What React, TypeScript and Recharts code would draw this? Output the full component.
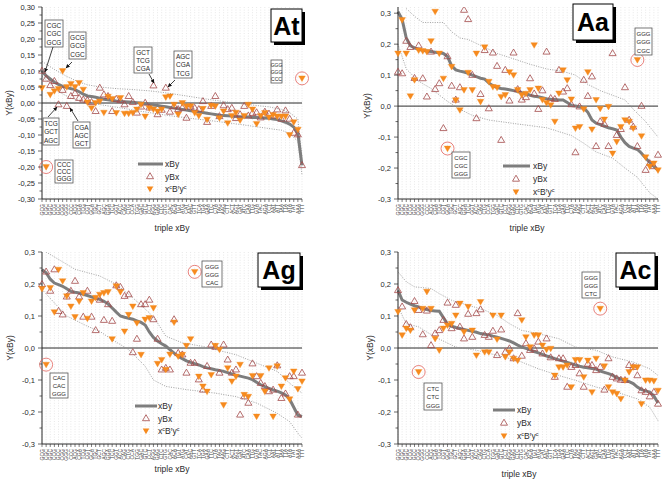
import React from 'react'
import { ComposedChart, Line, XAxis, YAxis, CartesianGrid, ReferenceLine, ReferenceDot } from 'recharts'

const FONT = '"Liberation Sans", Arial, sans-serif'
const GRAY = '#7d7d7d'
const RED = '#a34a4a'
const ORANGE = '#f68a1e'
const RING = '#e2625c'
const INK = '#2a2a2a'

// codon tick labels (too small to read in the source, kept as plausible triples)
const CODONS = [
  'GCG', 'CGC', 'GGC', 'CCG', 'GCC', 'CGG', 'GGG', 'CCC', 'ACG', 'CGA', 'TCG', 'CGT', 'GCA', 'TGC', 'GCT', 'AGC',
  'GGA', 'TCC', 'GGT', 'ACC', 'CAG', 'CTG', 'CCA', 'TGG', 'GAC', 'GTC', 'CCT', 'AGG', 'GAG', 'CTC', 'GTG', 'CAC',
  'ACA', 'TGT', 'ATG', 'CAT', 'AAC', 'GTT', 'TCA', 'TGA', 'GAA', 'TTC', 'CTA', 'TAG', 'AAG', 'CTT', 'ACT', 'AGT',
  'GAT', 'ATC', 'CAA', 'TTG', 'GTA', 'TAC', 'AGA', 'TCT', 'AAT', 'ATT', 'TAA', 'TTA', 'ATA', 'TAT', 'AAA', 'TTT',
]

type Pair = [number, number]

// ---- At ----
const AT_XBY = [
  0.100, 0.085, 0.075, 0.065, 0.058, 0.052, 0.048, 0.045, 0.042, 0.035, 0.028, 0.022, 0.020, 0.018, 0.015, 0.012,
  0.010, 0.008, 0.006, 0.005, 0.004, 0.003, 0.002, 0.001, 0.000, -0.002, -0.004, -0.006, -0.008, -0.010, -0.012, -0.014,
  -0.016, -0.018, -0.020, -0.022, -0.024, -0.026, -0.028, -0.030, -0.032, -0.034, -0.036, -0.038, -0.039, -0.040, -0.041, -0.042,
  -0.043, -0.044, -0.044, -0.045, -0.045, -0.046, -0.047, -0.048, -0.050, -0.052, -0.056, -0.060, -0.066, -0.075, -0.095, -0.195,
]
const AT_YBX = [
  0.100, 0.075, 0.055, 0.068, -0.005, 0.040, -0.010, 0.021, 0.030, 0.015, 0.010, 0.008, 0.002, -0.026, 0.047, 0.026,
  0.021, -0.026, 0.012, 0.008, -0.005, 0.021, 0.002, -0.031, -0.012, 0.000, -0.015, 0.054, -0.036, -0.022, 0.047, -0.028,
  -0.010, -0.020, -0.015, -0.047, -0.012, -0.016, -0.020, 0.005, -0.060, -0.010, 0.021, -0.042, -0.008, -0.020, -0.016, -0.048,
  -0.036, -0.010, -0.040, -0.032, -0.030, -0.046, -0.028, -0.034, -0.040, -0.021, -0.050, -0.024, -0.050, -0.094, -0.099, -0.195,
]
const AT_COMP = [
  0.047, -0.200, 0.026, 0.037, 0.044, 0.100, 0.050, 0.060, 0.050, 0.063, 0.042, 0.002, -0.016, 0.000, 0.005, -0.030,
  0.020, 0.013, -0.031, 0.016, -0.033, -0.033, -0.031, -0.020, -0.005, -0.042, -0.016, -0.020, -0.026, -0.020, 0.018, 0.021,
  -0.005, -0.036, 0.000, -0.010, -0.010, -0.031, -0.040, -0.018, -0.052, -0.008, -0.010, -0.047, -0.026, -0.063, -0.040, -0.030,
  -0.054, -0.040, -0.005, -0.020, -0.065, -0.040, -0.031, -0.045, -0.037, -0.042, -0.042, -0.042, -0.100, -0.060, -0.083, 0.077,
]
const AT_UPPER: Pair[] = [
  [0, 0.13], [3, 0.105], [6, 0.083], [9, 0.065], [11, 0.057], [14, 0.05], [18, 0.045], [22, 0.042], [26, 0.038], [30, 0.032],
  [35, 0.022], [40, 0.012], [45, 0.003], [50, -0.005], [55, -0.012], [58, -0.02], [60, -0.03], [62, -0.05], [63, -0.17],
]
const AT_LOWER: Pair[] = [
  [0, 0.085], [2, 0.06], [4, 0.035], [7, 0.015], [10, 0.005], [14, -0.005], [19, -0.015], [24, -0.026], [30, -0.038],
  [36, -0.048], [42, -0.057], [48, -0.067], [54, -0.078], [58, -0.085], [60, -0.095], [62, -0.12], [63, -0.225],
]
const AT_RINGS = [1, 63]
const AT_YTICKS = [-0.3, -0.25, -0.2, -0.15, -0.1, -0.05, 0, 0.05, 0.1, 0.15, 0.2, 0.25, 0.3]

// ---- Aa ----
const AA_XBY = [
  0.305, 0.280, 0.220, 0.195, 0.188, 0.183, 0.180, 0.178, 0.176, 0.174, 0.172, 0.170, 0.160, 0.130, 0.117, 0.113,
  0.110, 0.106, 0.100, 0.095, 0.090, 0.087, 0.075, 0.066, 0.060, 0.057, 0.055, 0.053, 0.050, 0.047, 0.043, 0.040,
  0.035, 0.032, 0.030, 0.027, 0.024, 0.022, 0.021, 0.020, 0.020, 0.012, 0.002, 0.000, -0.002, -0.005, -0.020, -0.045,
  -0.055, -0.060, -0.065, -0.070, -0.073, -0.077, -0.100, -0.118, -0.130, -0.136, -0.140, -0.152, -0.168, -0.182, -0.195, -0.207,
]
const AA_YBX = [
  0.110, 0.105, 0.210, 0.190, 0.090, 0.195, 0.089, 0.030, 0.175, 0.054, 0.073, -0.072, 0.160, 0.065, 0.020, 0.060,
  0.310, 0.280, 0.100, -0.040, 0.038, 0.180, -0.008, 0.172, 0.129, -0.110, 0.116, 0.017, 0.172, 0.054, 0.020, 0.028,
  0.089, 0.040, -0.010, 0.050, 0.175, 0.025, 0.022, 0.116, 0.046, 0.057, 0.005, -0.150, -0.002, 0.084, 0.032, 0.095,
  -0.130, -0.050, -0.058, -0.130, 0.170, -0.094, -0.075, 0.060, -0.045, -0.067, -0.130, 0.000, -0.207, -0.185, -0.195, -0.158,
]
const AA_COMP = [
  0.170, 0.278, 0.170, 0.032, 0.084, 0.180, 0.178, 0.175, 0.210, 0.305, 0.170, 0.089, -0.137, 0.127, 0.019, -0.013,
  0.052, 0.108, 0.052, 0.170, 0.014, 0.190, 0.079, 0.062, 0.060, 0.030, 0.036, 0.110, 0.100, 0.052, 0.036, 0.040,
  0.052, 0.197, 0.057, 0.020, 0.010, 0.003, -0.050, 0.041, 0.116, 0.084, 0.022, -0.072, -0.067, -0.010, 0.110, -0.075,
  0.020, -0.008, -0.043, -0.002, -0.153, -0.115, -0.067, -0.045, -0.050, -0.072, 0.149, -0.097, -0.165, -0.195, -0.185, -0.207,
]
const AA_UPPER: Pair[] = [
  [2, 0.315], [4, 0.29], [6, 0.27], [11, 0.27], [13, 0.24], [15, 0.22], [17, 0.215], [21, 0.19], [24, 0.17], [27, 0.157],
  [32, 0.135], [36, 0.12], [40, 0.112], [43, 0.1], [46, 0.07], [49, 0.05], [52, 0.035], [55, 0.02], [57, -0.01], [60, -0.05], [63, -0.1],
]
const AA_LOWER: Pair[] = [
  [0, 0.2], [2, 0.12], [5, 0.08], [8, 0.057], [12, 0.015], [15, -0.01], [18, -0.03], [22, -0.045], [28, -0.056], [36, -0.07],
  [42, -0.095], [45, -0.12], [48, -0.148], [52, -0.168], [55, -0.2], [58, -0.23], [61, -0.28], [63, -0.3],
]
const AA_RINGS = [12, 58]
const TENTHS = [-0.3, -0.2, -0.1, 0, 0.1, 0.2, 0.3]

// ---- Ag ----
const AG_XBY = [
  0.245, 0.235, 0.215, 0.203, 0.198, 0.193, 0.185, 0.177, 0.174, 0.172, 0.168, 0.164, 0.160, 0.155, 0.152, 0.146,
  0.138, 0.125, 0.112, 0.100, 0.096, 0.093, 0.090, 0.085, 0.080, 0.072, 0.050, 0.033, 0.022, 0.013, 0.006, -0.005,
  -0.016, -0.026, -0.033, -0.040, -0.045, -0.049, -0.053, -0.058, -0.062, -0.065, -0.068, -0.070, -0.073, -0.077, -0.081, -0.085,
  -0.088, -0.091, -0.094, -0.099, -0.107, -0.115, -0.121, -0.126, -0.131, -0.135, -0.140, -0.147, -0.160, -0.185, -0.210, -0.214,
]
const AG_YBX = [
  0.199, 0.238, 0.178, 0.245, 0.115, 0.104, 0.160, 0.178, 0.209, 0.160, 0.097, 0.178, 0.097, 0.055, 0.150, 0.087,
  0.136, 0.084, 0.195, 0.190, 0.162, 0.167, -0.014, 0.028, 0.136, 0.136, 0.150, 0.089, 0.028, -0.068, -0.063, -0.068,
  0.089, -0.016, -0.021, -0.078, -0.047, -0.047, -0.099, -0.131, -0.057, 0.010, 0.003, -0.078, 0.010, -0.037, -0.078, -0.068,
  -0.209, -0.152, -0.172, -0.049, -0.089, -0.110, -0.120, -0.136, -0.131, -0.055, -0.157, -0.143, -0.089, -0.089, -0.209, -0.078,
]
const AG_COMP = [
  0.185, -0.052, 0.188, 0.112, 0.245, 0.209, 0.162, 0.130, 0.097, 0.146, 0.172, 0.092, 0.146, 0.157, 0.167, 0.172,
  0.175, 0.028, 0.193, 0.175, 0.052, 0.104, 0.130, 0.078, -0.021, 0.089, 0.094, 0.125, -0.049, -0.037, -0.068, -0.020,
  0.080, -0.026, -0.021, 0.007, 0.028, 0.238, -0.089, -0.120, -0.136, -0.084, 0.007, -0.005, -0.178, -0.063, -0.104, -0.089,
  -0.052, -0.146, -0.152, -0.087, -0.214, -0.087, -0.136, -0.063, -0.214, -0.057, -0.120, -0.094, -0.160, -0.073, -0.128, -0.104,
]
const AG_UPPER: Pair[] = [
  [1, 0.3], [4, 0.277], [8, 0.246], [14, 0.225], [18, 0.199], [22, 0.157], [26, 0.11], [28, 0.078], [30, 0.037], [34, 0.016],
  [39, 0.005], [42, -0.005], [47, -0.021], [51, -0.042], [57, -0.073], [60, -0.11], [63, -0.141],
]
const AG_LOWER: Pair[] = [
  [0, 0.183], [3, 0.141], [6, 0.1], [11, 0.068], [14, 0.052], [17, 0.026], [21, -0.005], [25, -0.057], [27, -0.1], [30, -0.12],
  [35, -0.13], [42, -0.141], [47, -0.152], [52, -0.172], [57, -0.204], [60, -0.23], [62, -0.266], [63, -0.282],
]
const AG_RINGS = [1, 37]

// ---- Ac ----
const AC_XBY = [
  0.180, 0.150, 0.143, 0.137, 0.132, 0.128, 0.124, 0.120, 0.117, 0.116, 0.115, 0.095, 0.075, 0.068, 0.064, 0.061,
  0.058, 0.055, 0.052, 0.049, 0.045, 0.043, 0.041, 0.037, 0.034, 0.030, 0.026, 0.022, 0.016, 0.009, 0.003, -0.001,
  -0.006, -0.011, -0.015, -0.020, -0.025, -0.029, -0.033, -0.037, -0.041, -0.045, -0.049, -0.053, -0.057, -0.060, -0.062, -0.064,
  -0.066, -0.072, -0.076, -0.080, -0.085, -0.093, -0.097, -0.100, -0.105, -0.111, -0.122, -0.130, -0.134, -0.138, -0.150, -0.172,
]
const AC_YBX = [
  0.180, 0.129, 0.074, 0.064, 0.146, 0.118, 0.042, 0.116, 0.008, 0.045, 0.055, 0.087, 0.141, 0.061, 0.134, 0.066,
  0.029, 0.106, 0.034, 0.108, 0.120, 0.040, 0.034, 0.053, -0.023, 0.057, -0.013, -0.002, -0.033, 0.108, -0.025, 0.014,
  -0.007, -0.002, 0.019, -0.018, 0.029, -0.030, -0.091, -0.033, -0.033, -0.122, -0.060, -0.054, -0.080, -0.122, -0.050, -0.054,
  -0.070, -0.060, -0.131, -0.033, -0.091, -0.096, -0.100, -0.101, -0.054, -0.060, -0.086, -0.133, -0.138, -0.152, -0.138, -0.175,
]
const AC_COMP = [
  0.113, 0.040, 0.061, 0.055, 0.118, -0.075, 0.123, 0.176, 0.123, 0.029, -0.007, 0.061, 0.071, 0.076, 0.102, 0.139,
  0.050, 0.129, 0.055, -0.023, 0.144, -0.013, -0.013, 0.102, 0.027, 0.102, -0.028, -0.013, -0.033, -0.039, 0.087, 0.034,
  0.003, 0.040, 0.040, 0.008, -0.005, -0.002, -0.086, -0.060, -0.060, -0.054, -0.122, -0.037, -0.037, -0.091, -0.039, -0.138,
  -0.033, 0.123, -0.057, -0.122, -0.138, -0.143, -0.159, -0.101, -0.075, -0.060, -0.060, -0.175, -0.101, -0.101, -0.103, -0.133,
]
const AC_UPPER: Pair[] = [
  [0, 0.238], [2, 0.207], [4, 0.191], [8, 0.186], [10, 0.17], [13, 0.149], [17, 0.134], [21, 0.118], [24, 0.102], [27, 0.076],
  [30, 0.055], [34, 0.045], [39, 0.029], [43, 0.003], [48, -0.007], [52, -0.028], [57, -0.044], [61, -0.065], [63, -0.086],
]
const AC_LOWER: Pair[] = [
  [0, 0.129], [2, 0.076], [5, 0.066], [9, 0.034], [14, 0.003], [19, -0.007], [24, -0.023], [29, -0.039], [34, -0.065],
  [39, -0.086], [43, -0.101], [48, -0.122], [53, -0.138], [58, -0.159], [61, -0.185], [63, -0.227],
]
const AC_RINGS = [5, 49]

function buildRows(xby: number[], ybx: number[], comp: number[], upper: Pair[], lower: Pair[]) {
  return xby.map((v, i) => ({
    i,
    xby: v,
    ybx: ybx[i],
    comp: comp[i],
    upper: upper.find((p) => p[0] === i)?.[1] ?? null,
    lower: lower.find((p) => p[0] === i)?.[1] ?? null,
  }))
}

const upTri = (cx: number, cy: number) => `M${cx},${cy - 3.8}L${cx + 3.5},${cy + 2.2}L${cx - 3.5},${cy + 2.2}Z`
const downTri = (cx: number, cy: number) => `M${cx - 3.3},${cy - 2.4}L${cx + 3.3},${cy - 2.4}L${cx},${cy + 3.2}Z`

const W = 331
const H = 241
const PW = 260
const PH = 192
const AXW = 30
const AXH = 30

function fmt(v: number, dec: number) {
  const s = Math.abs(v) < 1e-9 ? (0).toFixed(dec) : v.toFixed(dec)
  return s.replace('.', ',')
}

function Panel(props: {
  left: number
  top: number
  plotLeft: number
  plotTop: number
  rows: ReturnType<typeof buildRows>
  domain: [number, number]
  majors: number[]
  dec: number
  rings: number[]
}) {
  const { left, top, plotLeft, plotTop, rows, domain, majors, dec, rings } = props
  const bottom = plotTop + PH
  const minors = majors.slice(1).map((m, k) => (m + majors[k]) / 2)
  const isMajor = (v: number) => majors.some((m) => Math.abs(m - v) < 1e-6)

  return (
    <div style={{ position: 'absolute', left, top, width: W, height: H }}>
      <ComposedChart
        width={W}
        height={H}
        data={rows}
        margin={{ top: plotTop, left: plotLeft - AXW, right: W - plotLeft - PW, bottom: H - bottom - AXH }}
      >
        <CartesianGrid horizontal={false} stroke="#e2e2e2" strokeWidth={0.8} strokeDasharray="1 1.6" />
        <XAxis
          dataKey="i"
          type="category"
          interval={0}
          height={AXH}
          stroke={INK}
          tickLine={false}
          tick={(p: any) => (
            <g>
              <line x1={p.x} x2={p.x} y1={bottom} y2={bottom + 3} stroke={INK} strokeWidth={0.6} />
              <text
                x={p.x}
                y={bottom + 5}
                dy={1.7}
                transform={`rotate(-90 ${p.x} ${bottom + 5})`}
                textAnchor="end"
                fontSize={5}
                fontFamily={FONT}
                fill="#444"
              >
                {CODONS[p.payload.value]}
              </text>
            </g>
          )}
        />
        <YAxis
          type="number"
          domain={domain}
          ticks={[...majors, ...minors]}
          interval={0}
          width={AXW}
          stroke={INK}
          tickLine={false}
          allowDataOverflow
          tick={(p: any) => {
            const major = isMajor(p.payload.value)
            return (
              <g>
                <line x1={plotLeft - (major ? 4 : 2.5)} x2={plotLeft} y1={p.y} y2={p.y} stroke={INK} strokeWidth={0.7} />
                {major && (
                  <text x={plotLeft - 7} y={p.y} dy={2.6} textAnchor="end" fontSize={7.5} fontFamily={FONT} fill={INK}>
                    {fmt(p.payload.value, dec)}
                  </text>
                )}
              </g>
            )
          }}
        />
        <ReferenceLine y={0} stroke={INK} strokeWidth={1} />
        <Line dataKey="upper" stroke="#8a8a8a" strokeWidth={0.8} strokeDasharray="1 1.4" dot={false} connectNulls isAnimationActive={false} />
        <Line dataKey="lower" stroke="#8a8a8a" strokeWidth={0.8} strokeDasharray="1 1.4" dot={false} connectNulls isAnimationActive={false} />
        <Line dataKey="xby" stroke={GRAY} strokeWidth={3} dot={false} isAnimationActive={false} />
        <Line
          dataKey="ybx"
          stroke="none"
          activeDot={false}
          isAnimationActive={false}
          dot={(p: any) => <path key={`u${p.index}`} d={upTri(p.cx, p.cy)} fill="none" stroke={RED} strokeWidth={0.8} />}
        />
        <Line
          dataKey="comp"
          stroke="none"
          activeDot={false}
          isAnimationActive={false}
          dot={(p: any) => <path key={`d${p.index}`} d={downTri(p.cx, p.cy)} fill={ORANGE} stroke={ORANGE} strokeWidth={0.4} />}
        />
        {rings.map((k) => (
          <ReferenceDot key={k} x={k} y={rows[k].comp} r={6.5} fill="none" stroke={RING} strokeWidth={0.8} />
        ))}
      </ComposedChart>
    </div>
  )
}

function Box({ x, y, w, h, lines, fs }: { x: number; y: number; w: number; h: number; lines: string[]; fs: number }) {
  const lh = (h - 2) / 3
  return (
    <g>
      <rect x={x} y={y} width={w} height={h} fill="#fff" stroke="#555" strokeWidth={0.8} />
      {lines.map((t, k) => (
        <text key={k} x={x + w / 2} y={y + 1 + lh * (k + 0.82)} textAnchor="middle" fontSize={fs} fontFamily={FONT} fill={INK}>
          {t}
        </text>
      ))}
    </g>
  )
}

function Title({ x, y, w, h, label }: { x: number; y: number; w: number; h: number; label: string }) {
  return (
    <g>
      <rect x={x + 3} y={y + 3} width={w} height={h} fill="#000" />
      <rect x={x} y={y} width={w} height={h} fill="#fff" stroke="#000" strokeWidth={1} />
      <text x={x + w / 2} y={y + h / 2 + 9} textAnchor="middle" fontSize={25} fontWeight="bold" fontFamily={FONT} fill="#000">
        {label}
      </text>
    </g>
  )
}

function Arrow({ x1, y1, x2, y2 }: { x1: number; y1: number; x2: number; y2: number }) {
  return <line x1={x1} y1={y1} x2={x2} y2={y2} stroke="#111" strokeWidth={0.8} markerEnd="url(#arr)" />
}

function Leg({ x1, x2, y, sx, tx, dy }: { x1: number; x2: number; y: number; sx: number; tx: number; dy: number }) {
  const fs = 8.5
  return (
    <g fontFamily={FONT} fontSize={fs} fill={INK}>
      <line x1={x1} x2={x2} y1={y} y2={y} stroke={GRAY} strokeWidth={3} />
      <text x={tx} y={y + 3}>xBy</text>
      <path d={upTri(sx, y + dy)} fill="none" stroke={RED} strokeWidth={0.8} />
      <text x={tx} y={y + dy + 3}>yBx</text>
      <path d={downTri(sx, y + 2 * dy)} fill={ORANGE} />
      <text x={tx} y={y + 2 * dy + 3}>
        x<tspan dy={-3} fontSize={5.5}>c</tspan>
        <tspan dy={3}>B</tspan>
        <tspan dy={-3} fontSize={5.5}>r</tspan>
        <tspan dy={3}>y</tspan>
        <tspan dy={-3} fontSize={5.5}>c</tspan>
      </text>
    </g>
  )
}

function AxisTitles({ yx, yy, tx, ty }: { yx: number; yy: number; tx: number; ty: number }) {
  return (
    <g fontFamily={FONT} fontSize={8.5} fill={INK}>
      <text x={yx} y={yy} transform={`rotate(-90 ${yx} ${yy})`} textAnchor="middle" dy={3}>
        Y(xBy)
      </text>
      <text x={tx} y={ty} textAnchor="middle">
        triple xBy
      </text>
    </g>
  )
}

export default function App() {
  const at = buildRows(AT_XBY, AT_YBX, AT_COMP, AT_UPPER, AT_LOWER)
  const aa = buildRows(AA_XBY, AA_YBX, AA_COMP, AA_UPPER, AA_LOWER)
  const ag = buildRows(AG_XBY, AG_YBX, AG_COMP, AG_UPPER, AG_LOWER)
  const ac = buildRows(AC_XBY, AC_YBX, AC_COMP, AC_UPPER, AC_LOWER)

  return (
    <div style={{ position: 'absolute', left: 0, top: 0, width: 662, height: 483, background: '#fff', overflow: 'hidden' }}>
      <Panel left={0} top={0} plotLeft={42} plotTop={7} rows={at} domain={[-0.3, 0.3]} majors={AT_YTICKS} dec={2} rings={AT_RINGS} />
      <Panel left={331} top={0} plotLeft={67} plotTop={7} rows={aa} domain={[-0.3, 0.32]} majors={TENTHS} dec={1} rings={AA_RINGS} />
      <Panel left={0} top={242} plotLeft={42} plotTop={10} rows={ag} domain={[-0.3, 0.3]} majors={TENTHS} dec={1} rings={AG_RINGS} />
      <Panel left={331} top={242} plotLeft={67} plotTop={10} rows={ac} domain={[-0.3, 0.3]} majors={TENTHS} dec={1} rings={AC_RINGS} />

      <svg width={662} height={483} style={{ position: 'absolute', left: 0, top: 0, pointerEvents: 'none' }}>
        <defs>
          <marker id="arr" viewBox="0 0 6 6" refX={5.5} refY={3} markerWidth={4} markerHeight={4} markerUnits="userSpaceOnUse" orient="auto">
            <path d="M0,0L6,3L0,6Z" fill="#111" />
          </marker>
        </defs>

        {/* At */}
        <AxisTitles yx={9} yy={103} tx={172} ty={231} />
        <Title x={271} y={9} w={31} h={33} label="At" />
        <Box x={45} y={20} w={18} h={27} lines={['CGC', 'CGC', 'GCG']} fs={6.5} />
        <Box x={69} y={32} w={17} h={27} lines={['GCG', 'GCG', 'CGC']} fs={6.5} />
        <Box x={43} y={118} w={16} h={27} lines={['TCG', 'GCT', 'AGC']} fs={6.5} />
        <Box x={73} y={122} w={17} h={26} lines={['CGA', 'AGC', 'GCT']} fs={6.5} />
        <Box x={134} y={47} w={18} h={26} lines={['GCT', 'TCG', 'CGA']} fs={6.5} />
        <Box x={174} y={51} w={18} h={27} lines={['AGC', 'CGA', 'TCG']} fs={6.5} />
        <Box x={271} y={60} w={11} h={23} lines={['GGG', 'GGG', 'CCC']} fs={5} />
        <Box x={55} y={160} w={18} h={23} lines={['CCC', 'CCC', 'GGG']} fs={6.5} />
        <Arrow x1={53} y1={47} x2={45} y2={72} />
        <Arrow x1={72} y1={62} x2={66} y2={68} />
        <Arrow x1={48} y1={117} x2={57} y2={107} />
        <Arrow x1={78} y1={121} x2={70} y2={108} />
        <Arrow x1={149} y1={74} x2={154} y2={83} />
        <Arrow x1={175} y1={80} x2={168} y2={87} />
        <Leg x1={138} x2={163} y={164} sx={150} tx={165} dy={12.5} />

        {/* Aa */}
        <AxisTitles yx={367} yy={106} tx={527} ty={231} />
        <Title x={573} y={4} w={40} h={36} label="Aa" />
        <Box x={635} y={28} w={17} h={27} lines={['GGG', 'GGG', 'CGC']} fs={6} />
        <Box x={452} y={152} w={18} h={26} lines={['CGC', 'CGC', 'GGG']} fs={6} />
        <Leg x1={503} x2={530} y={166} sx={516} tx={533} dy={13} />

        {/* Ag */}
        <AxisTitles yx={10} yy={348} tx={172} ty={472} />
        <Title x={258} y={253} w={42} h={34} label="Ag" />
        <Box x={202} y={261} w={20} h={26} lines={['GGG', 'GGG', 'CAC']} fs={6} />
        <Box x={50} y={373} w={18} h={25} lines={['CAC', 'CAC', 'GGG']} fs={6} />
        <Leg x1={135} x2={157} y={406} sx={146} tx={158} dy={12.5} />

        {/* Ac */}
        <AxisTitles yx={370} yy={348} tx={519} ty={477} />
        <Title x={616} y={253} w={39} h={34} label="Ac" />
        <Box x={582} y={272} w={18} h={26} lines={['GGG', 'GGG', 'CTC']} fs={6} />
        <Box x={424} y={383} w={18} h={27} lines={['CTC', 'CTC', 'GGG']} fs={6} />
        <Leg x1={493} x2={515} y={410} sx={504} tx={517} dy={13} />
      </svg>
    </div>
  )
}
